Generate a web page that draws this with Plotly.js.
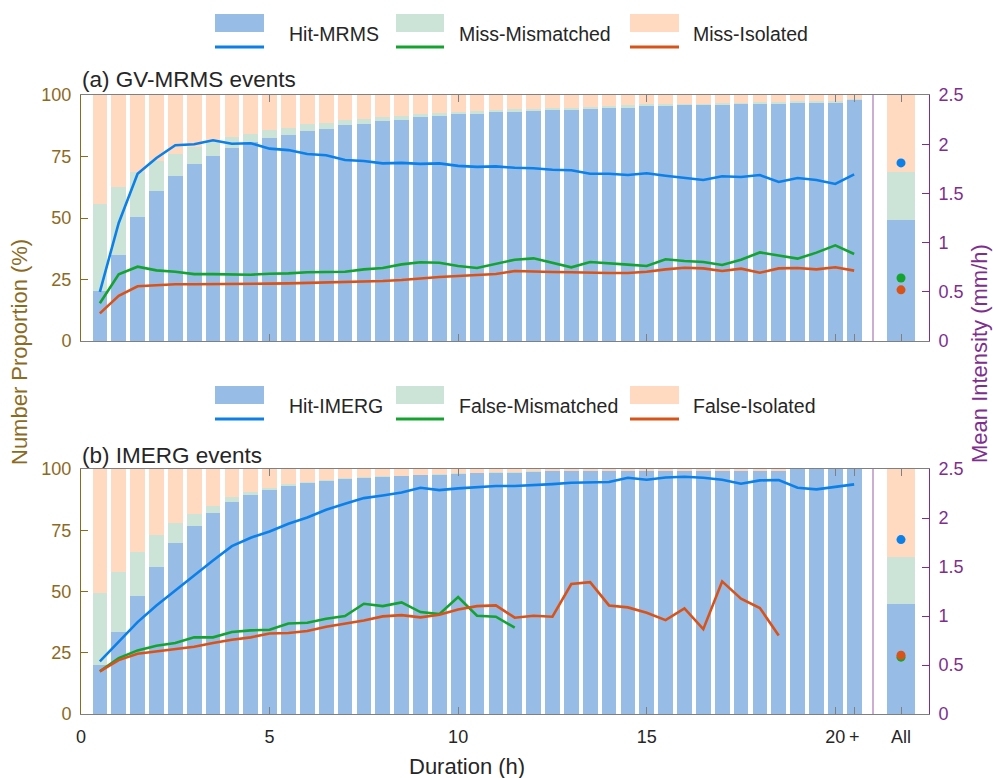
<!DOCTYPE html>
<html>
<head>
<meta charset="utf-8">
<script src="https://cdn.plot.ly/plotly-3.0.1.min.js"></script>
<style>html,body{margin:0;padding:0;background:#fff;}#chart{width:993px;height:778px;}</style>
</head>
<body>
<div id="chart"></div>
<script>
// ---------- data ----------
const durations = [0.5,1,1.5,2,2.5,3,3.5,4,4.5,5,5.5,6,6.5,7,7.5,8,8.5,9,9.5,10,10.5,11,11.5,12,12.5,13,13.5,14,14.5,15,15.5,16,16.5,17,17.5,18,18.5,19,19.5,20,20.5];
const xTickVals = [0,5,10,15,20,20.5];
const xTickText = ['0','5','10','15','20','+'];
const allLabel = ['All'];

// (a) GV-MRMS events: proportions (%)
const aHit = [20.3,35.1,50.4,61.0,67.2,72.1,75.3,78.6,80.8,82.7,83.7,85.4,86.3,87.9,88.2,89.6,90.0,91.1,91.3,92.1,92.3,93.0,93.2,93.5,93.8,94.0,94.2,94.7,94.9,95.5,95.5,95.8,95.9,96.1,96.2,96.3,96.5,96.9,96.6,96.6,98.1];
const aMis = [35.4,27.5,18.2,12.2,8.9,6.9,5.7,4.3,3.3,3.2,3.0,2.7,2.5,2.0,1.9,1.5,1.5,1.2,1.3,1.1,1.1,1.0,1.0,1.0,0.9,0.9,0.9,0.9,0.9,0.7,0.7,0.7,0.6,0.6,0.7,0.7,0.8,0.5,1.0,1.0,0.3];
const aIso = [44.3,37.4,31.4,26.8,23.9,21.0,19.0,17.1,15.9,14.1,13.3,11.9,11.2,10.1,9.9,8.9,8.5,7.7,7.4,6.8,6.6,6.0,5.8,5.5,5.3,5.1,4.9,4.4,4.2,3.8,3.8,3.5,3.5,3.3,3.1,3.0,2.7,2.6,2.4,2.4,1.6];
// (a) mean intensity (mm/h)
const aHitInt = [0.50,1.20,1.70,1.86,1.99,2.00,2.04,2.005,2.01,1.955,1.94,1.90,1.887,1.84,1.83,1.805,1.81,1.80,1.805,1.78,1.77,1.775,1.76,1.755,1.74,1.735,1.70,1.70,1.687,1.705,1.68,1.66,1.636,1.674,1.667,1.687,1.616,1.657,1.636,1.596,1.694];
const aMisInt = [0.383,0.678,0.755,0.718,0.704,0.68,0.68,0.68,0.674,0.684,0.687,0.698,0.698,0.704,0.728,0.742,0.779,0.80,0.795,0.762,0.742,0.782,0.826,0.84,0.796,0.749,0.803,0.793,0.776,0.762,0.83,0.813,0.803,0.772,0.826,0.90,0.867,0.837,0.898,0.972,0.884];
const aIsoInt = [0.281,0.46,0.556,0.569,0.576,0.576,0.576,0.576,0.576,0.583,0.586,0.59,0.593,0.596,0.603,0.61,0.62,0.637,0.65,0.66,0.67,0.681,0.711,0.704,0.701,0.698,0.691,0.691,0.691,0.704,0.728,0.745,0.738,0.711,0.735,0.694,0.738,0.742,0.728,0.749,0.715];
// (a) All
const aAllProp = [49.2, 19.6, 31.2];
const aAllInt = [1.81, 0.64, 0.52];

// (b) IMERG events: proportions (%)
const bHit = [20.1,33.4,48.0,60.2,69.6,76.7,82.2,86.4,89.2,91.4,93.0,94.1,95.2,96.0,96.4,96.9,97.1,97.4,97.7,98.1,98.2,98.5,98.5,98.9,99.0,99.0,99.0,99.0,99.0,99.1,99.1,99.1,99.1,99.1,99.1,99.1,99.1,100,100,100,100];
const bMis = [29.1,24.5,18.1,12.7,8.2,4.9,2.5,2.0,1.5,0.8,0.7,0.6,0.4,0.3,0.3,0.2,0.2,0.2,0.2,0.2,0.2,0.2,0.2,0.1,0.1,0.1,0.1,0.1,0.1,0.1,0.1,0.1,0.1,0.1,0.1,0.1,0.1,0,0,0,0];
const bIso = [50.8,42.1,33.9,27.1,22.2,18.4,15.3,11.6,9.3,7.8,6.3,5.3,4.4,3.7,3.3,2.9,2.7,2.4,2.1,1.7,1.6,1.3,1.3,1.0,0.9,0.9,0.9,0.9,0.9,0.8,0.8,0.8,0.8,0.8,0.8,0.8,0.8,0,0,0,0];
// (b) mean intensity (mm/h)
const bHitInt = [0.537,0.734,0.938,1.108,1.261,1.421,1.567,1.713,1.799,1.863,1.941,2.006,2.084,2.146,2.203,2.23,2.261,2.309,2.285,2.302,2.315,2.326,2.326,2.333,2.346,2.36,2.363,2.367,2.411,2.39,2.414,2.421,2.411,2.39,2.35,2.384,2.387,2.309,2.292,2.315,2.343];
const bMisInt = [0.435,0.571,0.649,0.697,0.724,0.782,0.782,0.836,0.853,0.86,0.924,0.931,0.972,0.999,1.125,1.101,1.139,1.04,1.019,1.193,1.003,0.993,0.881,null,null,null,null,null,null,null,null,null,null,null,null,null,null,null,null,null,null];
const bIsoInt = [0.435,0.55,0.615,0.639,0.659,0.687,0.724,0.758,0.782,0.822,0.826,0.846,0.891,0.921,0.955,0.996,1.009,0.986,1.013,1.067,1.101,1.108,0.983,1.003,0.993,1.326,1.346,1.108,1.088,1.034,0.958,1.078,0.866,1.353,1.176,1.081,0.802,null,null,null,null];
// (b) All
const bAllProp = [44.7, 19.3, 36.0];
const bAllInt = [1.78, 0.58, 0.60];

const namesA = ['Hit-MRMS','Miss-Mismatched','Miss-Isolated'];
const namesB = ['Hit-IMERG','False-Mismatched','False-Isolated'];

// ---------- styles ----------
const barCol = ['#97BCE6','#CCE3D7','#FFDAC0'];
const lineCol = ['#0B80E8','#14A32F','#D95319'];
const brown = '#8C6A1E';
const purple = '#7E2F8E';
const sepPurple = '#A878B4';
const gray = '#808080';
const txt = '#262626';
const FONT = 'Liberation Sans, Arial, Helvetica, sans-serif';

const ML = 81, MR = 64, MT = 95, MB = 64, W = 993, H = 778;
const PW = W - ML - MR, PH = H - MT - MB;
const px = x => (x - ML) / PW;
const py = y => (H - MB - y) / PH;
const dm = px(873);
const aBot = py(341), bTop = py(469);

const traces = [];
function panel(hit, mis, iso, hInt, mInt, iInt, allProp, allInt, xa, yL, yR, xAll, yAllL, yAllR) {
  [hit, mis, iso].forEach((v, i) => {
    traces.push({type:'bar', x:durations, y:v, width:0.39, marker:{color:barCol[i], line:{width:0}},
      xaxis:xa, yaxis:yL, showlegend:false, hoverinfo:'x+y'});
  });
  [hInt, mInt, iInt].forEach((v, i) => {
    traces.push({type:'scatter', mode:'lines', x:durations, y:v, line:{color:lineCol[i], width:2.6},
      xaxis:xa, yaxis:yR, showlegend:false, connectgaps:false});
  });
  allProp.forEach((v, i) => {
    traces.push({type:'bar', x:allLabel.map(()=>0.5), y:[v], width:0.5, marker:{color:barCol[i], line:{width:0}},
      xaxis:xAll, yaxis:yAllL, showlegend:false});
  });
  allInt.forEach((v, i) => {
    traces.push({type:'scatter', mode:'markers', x:[0.5], y:[v], marker:{color:lineCol[i], size:9},
      xaxis:xAll, yaxis:yAllR, showlegend:false});
  });
}
panel(bHit, bMis, bIso, bHitInt, bMisInt, bIsoInt, bAllProp, bAllInt, 'x', 'y', 'y2', 'x3', 'y3', 'y4');
panel(aHit, aMis, aIso, aHitInt, aMisInt, aIsoInt, aAllProp, aAllInt, 'x2', 'y5', 'y6', 'x4', 'y7', 'y8');

function xMain(anchor, labels) {
  return {domain:[0, dm], range:[0, 21], anchor:anchor, tickvals:xTickVals, ticktext:xTickText,
    showline:true, linecolor:gray, linewidth:1, mirror:'ticks', ticks:'inside', ticklen:7, tickcolor:gray,
    showgrid:false, zeroline:false, showticklabels:labels, ticklabelstandoff:6,
    tickfont:{size:18, color:txt, family:FONT}};
}
function xAllAx(anchor, labels) {
  return {domain:[dm, 1], range:[0, 1], anchor:anchor, tickvals:[0.5], ticktext:allLabel,
    showline:true, linecolor:gray, linewidth:1, mirror:'ticks', ticks:'inside', ticklen:7, tickcolor:gray,
    showgrid:false, zeroline:false, showticklabels:labels, ticklabelstandoff:6,
    tickfont:{size:18, color:txt, family:FONT}};
}
function yLeft(dom, anchor) {
  return {domain:dom, range:[0, 100], anchor:anchor, tickvals:[0,25,50,75,100],
    showline:true, linecolor:brown, linewidth:1, ticks:'inside', ticklen:7, tickcolor:brown,
    showgrid:false, zeroline:false, ticklabelstandoff:5, tickfont:{size:18, color:brown, family:FONT}};
}
function yRightMain(over, anchor) {
  return {overlaying:over, side:'right', anchor:anchor, range:[0, 2.5], showline:false,
    ticks:'', showticklabels:false, showgrid:false, zeroline:false};
}
function yAllHidden(dom, anchor) {
  return {domain:dom, range:[0, 100], anchor:anchor, visible:false, showgrid:false, zeroline:false};
}
function yRightAll(over, anchor) {
  return {overlaying:over, side:'right', anchor:anchor, range:[0, 2.5], tickvals:[0,0.5,1,1.5,2,2.5],
    ticktext:['0','0.5','1','1.5','2','2.5'], showline:true, linecolor:purple, linewidth:1,
    ticks:'inside', ticklen:7, tickcolor:purple, showgrid:false, zeroline:false, ticklabelstandoff:5,
    tickfont:{size:18, color:purple, family:FONT}};
}

// ---------- legend (drawn as shapes + text) ----------
const shapes = [], annotations = [];
function legendRow(names, yOff) {
  const sw = [[215,264,287],[396,444,457],[630,679,691]];
  sw.forEach((s, i) => {
    shapes.push({type:'rect', xref:'paper', yref:'paper', x0:px(s[0]), x1:px(s[1]),
      y0:py(14 + yOff), y1:py(32 + yOff), fillcolor:barCol[i], line:{width:0}});
    shapes.push({type:'line', xref:'paper', yref:'paper', x0:px(s[0]), x1:px(s[1]),
      y0:py(47 + yOff), y1:py(47 + yOff), line:{color:lineCol[i], width:3}});
    annotations.push({xref:'paper', yref:'paper', x:px(s[2]), y:py(34 + yOff), xanchor:'left', yanchor:'middle',
      text:names[i], showarrow:false, font:{size:19.5, color:txt, family:FONT}});
  });
}
legendRow(namesA, 0);
legendRow(namesB, 372);

// separators between the duration panels and the "All" panels
[[aBot, 1], [0, bTop]].forEach(d => {
  shapes.push({type:'line', xref:'paper', yref:'paper', x0:dm, x1:dm, y0:d[0], y1:d[1],
    line:{color:sepPurple, width:1.2}, layer:'above'});
});

annotations.push({xref:'paper', yref:'paper', x:px(80), y:py(80), xanchor:'left', yanchor:'middle',
  text:'(a) GV-MRMS events', showarrow:false, font:{size:22.5, color:txt, family:FONT}});
annotations.push({xref:'paper', yref:'paper', x:px(80), y:py(455), xanchor:'left', yanchor:'middle',
  text:'(b) IMERG events', showarrow:false, font:{size:22.5, color:txt, family:FONT}});
annotations.push({xref:'paper', yref:'paper', x:px(467), y:py(766), xanchor:'center', yanchor:'middle',
  text:'Duration (h)', showarrow:false, font:{size:22, color:txt, family:FONT}});
annotations.push({xref:'paper', yref:'paper', x:px(19), y:py(352), xanchor:'center', yanchor:'middle',
  text:'Number Proportion (%)', textangle:-90, showarrow:false, font:{size:22, color:brown, family:FONT}});
annotations.push({xref:'paper', yref:'paper', x:px(979), y:py(353), xanchor:'center', yanchor:'middle',
  text:'Mean Intensity (mm/h)', textangle:-90, showarrow:false, font:{size:22, color:purple, family:FONT}});

const layout = {
  width:W, height:H, margin:{l:ML, r:MR, t:MT, b:MB},
  paper_bgcolor:'#fff', plot_bgcolor:'rgba(0,0,0,0)',
  barmode:'stack', showlegend:false, font:{family:FONT, color:txt},
  xaxis:xMain('y', true), xaxis2:xMain('y5', false),
  xaxis3:xAllAx('y3', true), xaxis4:xAllAx('y7', false),
  yaxis:yLeft([0, bTop], 'x'), yaxis2:yRightMain('y', 'x'),
  yaxis3:yAllHidden([0, bTop], 'x3'), yaxis4:yRightAll('y3', 'x3'),
  yaxis5:yLeft([aBot, 1], 'x2'), yaxis6:yRightMain('y5', 'x2'),
  yaxis7:yAllHidden([aBot, 1], 'x4'), yaxis8:yRightAll('y7', 'x4'),
  shapes:shapes, annotations:annotations
};
Plotly.newPlot('chart', traces, layout, {displayModeBar:false, staticPlot:true});
</script>
</body>
</html>
